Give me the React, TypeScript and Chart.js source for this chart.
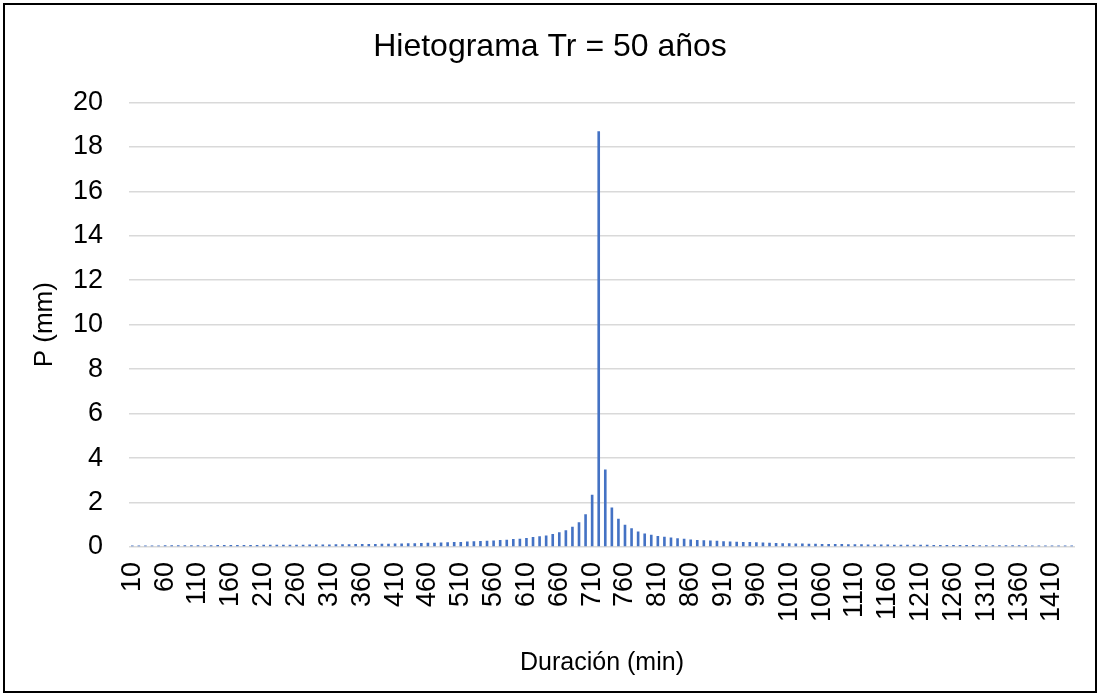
import React, { useEffect, useRef } from "react";
import { Chart, registerables } from "chart.js";

Chart.register(...registerables);

const chartTitle = "Hietograma Tr = 50 años";
const xTitle = "Duración (min)";
const yTitle = "P (mm)";

// Duración (min): 10, 20, ..., 1440
const durations: number[] = Array.from({ length: 144 }, (_, i) => (i + 1) * 10);

// Precipitación por bloque (mm)
const precipitation: number[] = [
  0.07, 0.07, 0.07, 0.07, 0.07, 0.08, 0.08, 0.08, 0.08, 0.08,
  0.08, 0.08, 0.08, 0.09, 0.09, 0.09, 0.09, 0.09, 0.09, 0.09,
  0.10, 0.10, 0.10, 0.10, 0.10, 0.10, 0.10, 0.11, 0.11, 0.11,
  0.11, 0.12, 0.12, 0.12, 0.13, 0.13, 0.14, 0.14, 0.15, 0.15,
  0.16, 0.16, 0.17, 0.17, 0.18, 0.19, 0.19, 0.20, 0.21, 0.22,
  0.23, 0.25, 0.26, 0.27, 0.28, 0.29, 0.31, 0.33, 0.36, 0.37,
  0.40, 0.45, 0.48, 0.52, 0.58, 0.66, 0.75, 0.91, 1.11, 1.47,
  2.35, 18.7,
  3.49, 1.78, 1.27, 1.00, 0.84, 0.70, 0.61, 0.55,
  0.49, 0.46, 0.43, 0.39, 0.37, 0.34, 0.32, 0.30, 0.29, 0.28,
  0.26, 0.25, 0.24, 0.23, 0.22, 0.21, 0.20, 0.19, 0.18, 0.17,
  0.17, 0.16, 0.16, 0.15, 0.15, 0.14, 0.14, 0.13, 0.13, 0.12,
  0.12, 0.12, 0.11, 0.11, 0.11, 0.11, 0.10, 0.10, 0.10, 0.10,
  0.10, 0.10, 0.09, 0.09, 0.09, 0.09, 0.09, 0.09, 0.09, 0.08,
  0.08, 0.08, 0.08, 0.08, 0.08, 0.08, 0.08, 0.07, 0.07, 0.07,
  0.07, 0.07, 0.07, 0.07,
];

const yMin = 0;
const yMax = 20;
const yStep = 2;
const labelEvery = 5;

const FONT = "'Liberation Sans', Arial, sans-serif";

const borderPlugin = {
  id: "outerBorder",
  afterDraw(chart: any) {
    const ctx = chart.ctx;
    ctx.save();
    ctx.strokeStyle = "#000000";
    ctx.lineWidth = 2;
    ctx.strokeRect(4, 4, 1092, 688);
    ctx.restore();
  },
};

export default function App() {
  const canvasRef = useRef<HTMLCanvasElement | null>(null);

  useEffect(() => {
    if (!canvasRef.current) return;
    const chart = new Chart(canvasRef.current, {
      type: "bar",
      data: {
        labels: durations.map(String),
        datasets: [
          {
            label: "P (mm)",
            data: precipitation,
            backgroundColor: "#4472C4",
            borderWidth: 0,
            categoryPercentage: 1,
            barPercentage: 0.4,
          },
        ],
      },
      plugins: [borderPlugin],
      options: {
        responsive: false,
        animation: false,
        layout: { padding: { left: 0, right: 0, top: 0, bottom: 0 } },
        plugins: {
          legend: { display: false },
          tooltip: { enabled: false },
          title: {
            display: true,
            text: chartTitle,
            color: "#000000",
            font: { family: FONT, size: 32, weight: "normal" },
            padding: { top: 28, bottom: 36 },
          },
        },
        scales: {
          x: {
            grid: { display: false },
            border: { display: false },
            ticks: {
              autoSkip: false,
              maxRotation: 90,
              minRotation: 90,
              padding: 7,
              color: "#000000",
              font: { family: FONT, size: 27 },
              callback: (_v: any, idx: number) =>
                idx % labelEvery === 0 ? String(durations[idx]) : "",
            },
            title: {
              display: true,
              text: xTitle,
              color: "#000000",
              font: { family: FONT, size: 25 },
              padding: { top: 0, bottom: 18 },
            },
            afterFit: (s: any) => {
              s.height = 149;
              s.paddingLeft = 0;
              s.paddingRight = 0;
            },
          },
          y: {
            min: yMin,
            max: yMax,
            grid: { color: "#d9d9d9", lineWidth: 1.5, drawTicks: false },
            border: { display: false },
            ticks: {
              stepSize: yStep,
              padding: 26,
              color: "#000000",
              font: { family: FONT, size: 27 },
            },
            title: {
              display: true,
              text: yTitle,
              color: "#000000",
              font: { family: FONT, size: 26 },
              padding: { top: 29, bottom: 0 },
            },
            afterFit: (s: any) => {
              s.width = 129;
            },
          },
          y2: {
            type: "linear",
            position: "right",
            display: true,
            grid: { display: false },
            border: { display: false },
            ticks: { display: false },
            afterFit: (s: any) => {
              s.width = 25;
            },
          },
        },
      },
    });
    return () => chart.destroy();
  }, []);

  return (
    <canvas
      ref={canvasRef}
      width={1100}
      height={696}
      style={{ position: "absolute", left: 0, top: 0, display: "block", background: "#ffffff" }}
    />
  );
}
